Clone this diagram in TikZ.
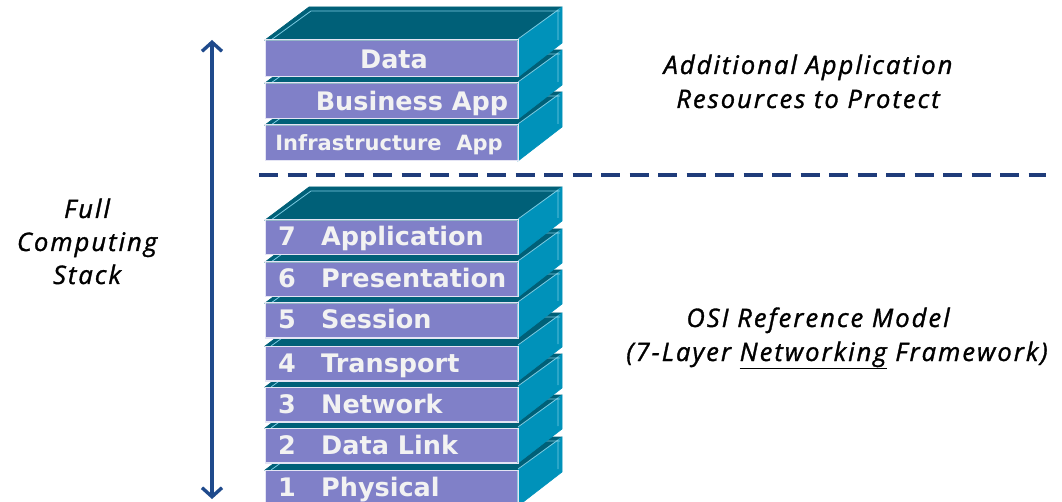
\documentclass[tikz,border=0pt]{standalone}
\usepackage{fontspec}
\usetikzlibrary{arrows.meta}
\newfontfamily\boxfont{DejaVu Sans}
\newfontfamily\capfont{Open Sans}[LetterSpace=8,FakeBold=1.3]
\definecolor{frontc}{HTML}{8080C8}
\definecolor{topc}{HTML}{006078}
\definecolor{sidec}{HTML}{0092BA}
\definecolor{edgec}{HTML}{E4E4F4}
\definecolor{sideedge}{HTML}{7CCBE2}
\definecolor{txtc}{HTML}{F2F2F2}
\definecolor{navy}{HTML}{1F4A8C}
\definecolor{dashnavy}{HTML}{1F3C7A}
\tikzset{
  front/.style={rectangle, fill=frontc, draw=edgec, line width=1pt, inner sep=0pt,
    minimum width=252pt, anchor=north west},
  topface/.style={fill=topc, draw=topc, line width=0.6pt},
  sideface/.style={fill=sidec, draw=sidec, line width=0.6pt},
  bevel/.style={draw=sideedge, line width=0.8pt},
  lbl/.style={font=\boxfont\bfseries\fontsize{25.5}{27}\selectfont, text=txtc, inner sep=0pt, anchor=base west},
  smalllbl/.style={font=\boxfont\bfseries\fontsize{21}{23}\selectfont, text=txtc, inner sep=0pt, anchor=base},
  captxt/.style={font=\capfont\itshape\fontsize{25.5}{33.5}\selectfont, text=black, align=center, inner sep=0pt, anchor=base}
}
% slab: name, top y, height
\newcommand\slabbox[3]{%
  \node[front, minimum height=#3 pt] (#1) at (265,#2) {};
  \path[topface] (#1.north west) -- ++(44,-33) -- ++(252,0) -- (#1.north east) -- cycle;
  \path[sideface] (#1.north east) -- ++(44,-33) -- ++(0,#3) -- (#1.south east) -- cycle;
  \draw[bevel] ([shift={(6,0)}]#1.north west) -- ++(40,-29) -- ++(249,0);
  \draw[bevel] ([shift={(0,-1)}]#1.north east) -- ++(40,-29) -- ++(0,#3-6);
  \draw[edgec, line width=1pt] (#1.north west) -- (#1.south west) -- (#1.south east) -- (#1.north east) -- cycle;
}
\begin{document}
\begin{tikzpicture}[x=1pt, y=-1pt]
\useasboundingbox (0,0) rectangle (1062,502);
\clip (0,0) rectangle (1062,502);
% upper stack, bottom first
\slabbox{infra}{125}{35}
\slabbox{bus}{83}{35}
\slabbox{data}{40}{36}
\node[smalllbl] (tinfra) at (389,151) {Infrastructure\hspace{0.35em} App};
\node[lbl, anchor=base] (tbus) at (412,111) {Business App};
\node[lbl, anchor=base] (tdata) at (394,69) {Data};
% OSI stack, bottom first
\slabbox{l1}{470}{35}
\slabbox{l2}{428}{34}
\slabbox{l3}{387}{34}
\slabbox{l4}{346}{34}
\slabbox{l5}{303}{34}
\slabbox{l6}{262}{34}
\slabbox{l7}{220}{34}
\foreach \n/\y/\t in {7/246/Application,6/288/Presentation,5/329/Session,4/372/Transport,3/413/Network,2/454/Data Link,1/496/Physical}{
  \node[lbl] (num\n) at (278,\y) {\n};
  \node[lbl] (name\n) at (321,\y) {\t};
}
% dashed separator
\coordinate (dl) at (259,175);
\coordinate (dr) at (1046,175);
\draw[dashnavy, line width=4.5pt, dash pattern=on 19pt off 9.5pt] (dl) -- (dr);
% full-stack arrow
\coordinate (atop) at (212,40);
\coordinate (abot) at (212,499);
\draw[navy, line width=3.4pt, {Straight Barb[length=9pt,width=20pt]}-{Straight Barb[length=9pt,width=20pt]}] (atop) -- (abot);
% captions
\node[captxt] (full1) at (87,218) {Full};
\node[captxt] (full2) at (87,251) {Computing};
\node[captxt] (full3) at (87,284) {Stack};
\node[captxt] (addl1) at (808,74) {Additional Application};
\node[captxt] (addl2) at (808,108) {Resources to Protect};
\node[captxt] (osi1) at (818,327) {OSI Reference Model};
\node[captxt] (osi2) at (837,361) {(7-Layer \underline{Networking} Framework)};
\end{tikzpicture}
\end{document}
